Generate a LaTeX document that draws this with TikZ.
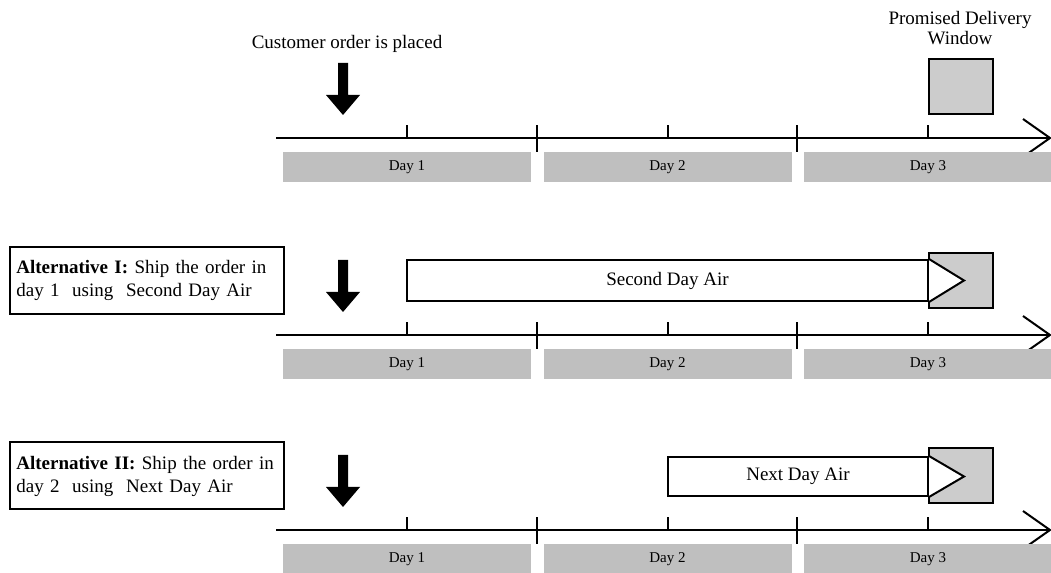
\documentclass[tikz,border=0pt]{standalone}
\usepackage{fontspec}
\setmainfont{Liberation Serif}
\definecolor{barg}{RGB}{191,191,191}
\definecolor{wing}{RGB}{204,204,204}
\begin{document}
\begin{tikzpicture}[x=0.75pt,y=-0.75pt,
  axis/.style={line width=1.5pt},
  lbl/.style={font=\fontsize{14.25}{15}\selectfont, inner sep=0pt},
  daybar/.style={fill=barg, draw=none, minimum width=186pt, minimum height=22.5pt,
    inner sep=0pt, font=\fontsize{11.25}{13}\selectfont},
  window/.style={fill=wing, draw=black, line width=1.5pt, minimum width=48pt,
    minimum height=41.25pt, inner sep=0pt},
  ship/.style={fill=white, draw=black, line width=1.5pt, inner sep=0pt,
    font=\fontsize{14.25}{17}\selectfont},
  altbox/.style={draw=black, line width=1.5pt, inner xsep=4.75pt, inner ysep=7.5pt,
    text width=196pt, minimum height=50.25pt, align=left,
    font=\fontsize{14.25}{17.25}\selectfont},
  orderarrow/.style={fill=black}]
\useasboundingbox (0,0) rectangle (1051,573);

% three timelines with day bars, ticks and the order arrow
\foreach \ay [count=\r] in {138,335,530} {
  \coordinate (s\r) at (276,\ay);
  \coordinate (e\r) at (1050,\ay);
  \draw[axis] (s\r) -- (e\r);
  \draw[axis] ([shift={(-27,-19)}]e\r) -- (e\r) -- ([shift={(-27,19)}]e\r);
  \foreach \tx in {407,668,928}
    \draw[axis] (\tx,\ay) -- (\tx,\ay-13);
  \foreach \tx in {537,797}
    \draw[axis] (\tx,\ay+14) -- (\tx,\ay-13);
  \node[daybar] (d\r a) at (407,\ay+29) {Day 1};
  \node[daybar] (d\r b) at (667.5,\ay+29) {Day 2};
  \node[daybar] (d\r c) at (928,\ay+29) {Day 3};
  \fill[orderarrow] (338,\ay-75) -- (348,\ay-75) -- (348,\ay-43) -- (360,\ay-43)
    -- (343,\ay-23) -- (326,\ay-43) -- (338,\ay-43) -- cycle;
}

% top row labels and delivery window
\node[lbl] (order) at (347,44) {Customer order is placed};
\node[lbl, align=center, font=\fontsize{14.25}{15}\selectfont] (promise) at (960,28)
  {Promised Delivery\\Window};
\node[window] (w1) at (960.5,86.5) {};

% alternative I
\node[altbox] (alt1) at (147,280.5)
  {\textbf{Alternative I:} Ship the order in\\day 1~ using~ Second Day Air};
\node[window] (w2) at (960.5,280.5) {};
\node[ship, minimum width=390.75pt, minimum height=30.75pt] (ship2) at (667.5,280.5)
  {Second Day Air};
\filldraw[fill=white, line width=1.5pt] (ship2.north east)
  -- ([xshift=26.25pt]ship2.east) -- (ship2.south east);

% alternative II
\node[altbox] (alt2) at (147,476)
  {\textbf{Alternative II:} Ship the order in\\day 2~ using~ Next Day Air};
\node[window] (w3) at (960.5,476) {};
\node[ship, minimum width=195pt, minimum height=29.25pt] (ship3) at (798,476.5)
  {Next Day Air};
\filldraw[fill=white, line width=1.5pt] (ship3.north east)
  -- ([xshift=26.25pt]ship3.east) -- (ship3.south east);
\end{tikzpicture}
\end{document}
